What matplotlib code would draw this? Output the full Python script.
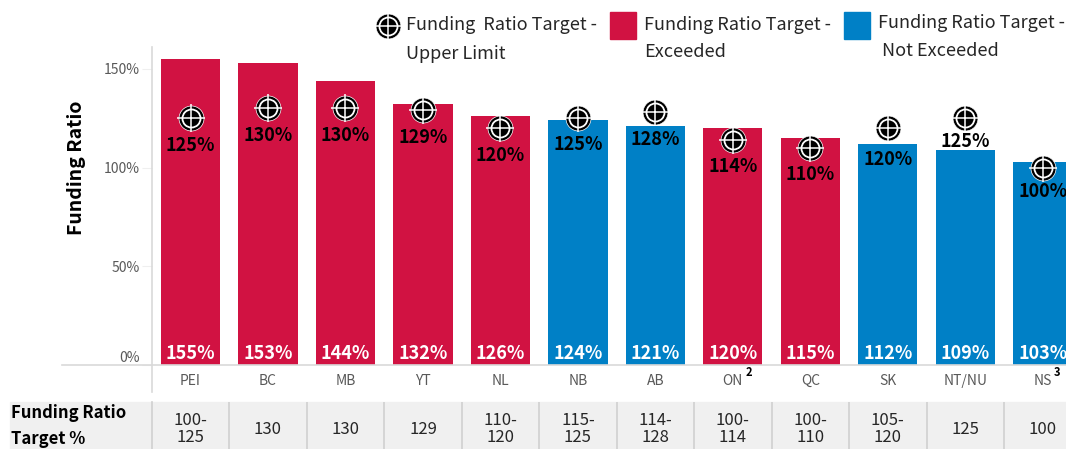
# coding=utf-8

import numpy as np
from matplotlib import pyplot as plt
from matplotlib.patches import Rectangle

plt.rcParams['font.family'] = ['Noto Sans CJK JP', 'DejaVu Sans']

provinces = ['PEI', 'BC', 'MB', 'YT', 'NL', 'NB', 'AB', 'ON', 'QC', 'SK', 'NT/NU', 'NS']
ratios = [155, 153, 144, 132, 126, 124, 121, 120, 115, 112, 109, 103]
targets = [125, 130, 130, 129, 120, 125, 128, 114, 110, 120, 125, 100]
exceeded = [True, True, True, True, True, False, False, True, True, False, False, False]
target_ranges = ['100-\n125', '130', '130', '129', '110-\n120', '115-\n125',
                 '114-\n128', '100-\n114', '100-\n110', '105-\n120', '125', '100']
y_ticks = [0, 50, 100, 150]

RED = '#D11242'
BLUE = '#0080C6'
W, H = 1066, 449


def px_box(x0, y0, x1, y1):
    return [x0 / W, 1 - y1 / H, (x1 - x0) / W, (y1 - y0) / H]


def draw_target(axis, x, y):
    kw = {'clip_on': False, 'zorder': 5}
    axis.plot(x, y, 'o', ms=18, mfc='black', mec='white', mew=0.5, **kw)
    axis.plot(x, y, 'o', ms=13, mfc='black', mec='white', mew=1.3, **kw)
    axis.plot(x, y, '+', ms=20, mec='white', mew=1.1, **kw)


fig = plt.figure(figsize=(W / 100, H / 100), dpi=100)
ax = fig.add_axes(px_box(152, 47, 1066, 365))
x = np.arange(len(provinces))
x_lim = (-0.497, 11.30)

colors = [RED if e else BLUE for e in exceeded]
ax.bar(x, ratios, width=0.765, color=colors)
ax.set_xlim(x_lim)
ax.set_ylim(0, 318 / 1.974)

for s in ['top', 'right']:
    ax.spines[s].set_visible(False)
ax.spines['left'].set_color('#d9d9d9')
ax.spines['bottom'].set_color('#d9d9d9')
ax.spines['left'].set_linewidth(1.2)
ax.spines['bottom'].set_linewidth(1.2)

ax.set_yticks(y_ticks)
ax.set_yticklabels(['%d%%' % v for v in y_ticks], fontsize=10, color='#595959')
ax.get_yticklabels()[0].set_va('bottom')
ax.tick_params(axis='y', length=7, color='#efefef', pad=2)
ax.set_xticks(x)
ax.set_xticklabels(provinces, fontsize=10, color='#595959')
ax.tick_params(axis='x', length=0, pad=6.5)

# extends the axis lines past the plot, as in the original
fig.add_artist(plt.Line2D([152 / W, 152 / W], [1 - 365 / H, 1 - 392 / H], color='#d9d9d9', lw=1.2))
fig.add_artist(plt.Line2D([62 / W, 152 / W], [1 - 365 / H, 1 - 365 / H], color='#d9d9d9', lw=1.2))

fig.text(77 / W, 1 - 168 / H, 'Funding Ratio', rotation=90, ha='center', va='center',
         fontsize=14, fontweight='bold', color='black')

nudge = {'SK': -4, 'NT/NU': 4, 'NS': 3, 'NB': 1}
for i, name in enumerate(provinces):
    ax.annotate('%d%%' % ratios[i], (i, 0), xytext=(0, 8), textcoords='offset points',
                ha='center', va='center', color='white', fontsize=13, fontweight='bold',
                annotation_clip=False)
    draw_target(ax, i, targets[i])
    ax.annotate('%d%%' % targets[i], (i, targets[i]),
                xytext=(0, (-27 + nudge.get(name, 0)) * 0.72), textcoords='offset points',
                ha='center', va='center', color='black', fontsize=13, fontweight='bold',
                zorder=6, annotation_clip=False)

fig.text(749 / W, 1 - 372 / H, '2', fontsize=8, fontweight='bold', ha='center', va='center')
fig.text(1057 / W, 1 - 372 / H, '3', fontsize=8, fontweight='bold', ha='center', va='center')

# table under the chart
tab = fig.add_axes(px_box(152, 402, 1066, 449))
tab.set_xlim(x_lim)
tab.set_ylim(0, 1)
tab.axis('off')
fig.add_artist(Rectangle((10 / W, 0), 1056 / W, 47 / H, transform=fig.transFigure,
                         color='#f0f0f0', zorder=-1))
for i, label in enumerate(target_ranges):
    if i > 0:
        tab.axvline(i - 0.5, color='#d0d0d0', lw=1.2)
    tab.text(i, 0.42, label, ha='center', va='center', fontsize=12, color='#262626', linespacing=1.0)
tab.axvline(-0.497, color='#d0d0d0', lw=1.2, clip_on=False)
fig.text(11 / W, 1 - 413 / H, 'Funding Ratio', fontsize=12, fontweight='bold', va='center')
fig.text(11 / W, 1 - 439 / H, 'Target %', fontsize=12, fontweight='bold', va='center')

# legend
ov = fig.add_axes([0, 0, 1, 1])
ov.set_xlim(0, W)
ov.set_ylim(H, 0)
ov.axis('off')
ov.patch.set_alpha(0)
draw_target(ov, 388, 26)
ov.add_patch(Rectangle((610, 12), 26, 27, color=RED))
ov.add_patch(Rectangle((844, 12), 26, 27, color=BLUE))
legend_color = '#262626'
ov.text(406, 25, 'Funding  Ratio Target -', fontsize=13, va='center', color=legend_color)
ov.text(406, 54, 'Upper Limit', fontsize=13, va='center', color=legend_color)
ov.text(644, 25, 'Funding Ratio Target -', fontsize=13, va='center', color=legend_color)
ov.text(644, 52, 'Exceeded', fontsize=13, va='center', color=legend_color)
ov.text(878, 23, 'Funding Ratio Target -', fontsize=13, va='center', color=legend_color)
ov.text(882, 51, 'Not Exceeded', fontsize=13, va='center', color=legend_color)

plt.savefig('out.png', dpi=100)
